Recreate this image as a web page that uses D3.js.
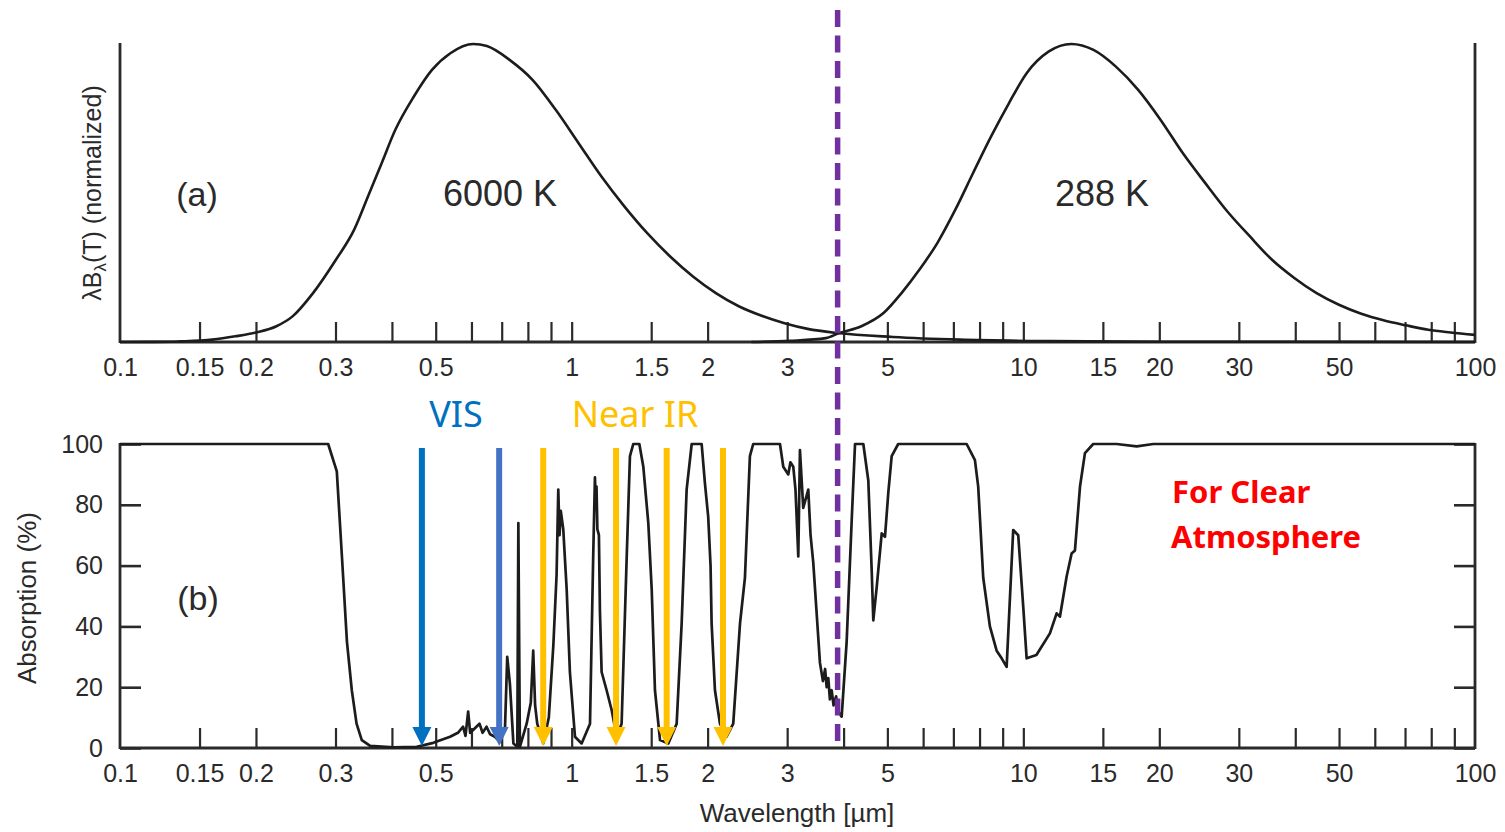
<!DOCTYPE html>
<html>
<head>
<meta charset="utf-8">
<script src="https://cdn.jsdelivr.net/npm/d3@7"></script>
<style>
  html, body { margin: 0; padding: 0; background: #fff; }
  svg { display: block; }
</style>
</head>
<body>
<svg id="chart" width="1505" height="832"></svg>
<script>
// ---------------- DATA ----------------
const wavelengthTicks = [0.15,0.2,0.3,0.4,0.5,0.6,0.7,0.8,0.9,1,1.5,2,3,4,5,6,7,8,9,10,15,20,30,40,50,60,70,80,90];
const wavelengthLabels = [0.1,0.15,0.2,0.3,0.5,1,1.5,2,3,5,10,15,20,30,50,100];
const absorptionTicks = [0,20,40,60,80,100];

// normalized lambda*B_lambda(T)
const sun6000K = [[0.10,0],[0.13,0.001],[0.136,0.002],[0.160,0.008],[0.180,0.019],[0.200,0.032],[0.222,0.053],
  [0.241,0.086],[0.2675,0.164],[0.3006,0.276],[0.330,0.377],[0.354,0.488],[0.3796,0.600],[0.407,0.712],
  [0.447,0.823],[0.4906,0.913],[0.5388,0.969],[0.6055,1.0],[0.649,0.993],[0.7298,0.946],[0.820,0.879],
  [0.922,0.779],[1.036,0.667],[1.164,0.555],[1.308,0.455],[1.470,0.365],[1.652,0.287],[1.856,0.220],
  [2.086,0.164],[2.344,0.120],[2.634,0.088],[2.96,0.063],[3.33,0.044],[3.88,0.030],[5.14,0.017],
  [7.23,0.008],[11.4,0.003],[20,0.001],[100,0]];
const earth288K = [[2.5,0],[3.045,0.004],[3.654,0.013],[3.91,0.030],[4.38,0.053],[4.91,0.098],[5.38,0.165],
  [5.89,0.243],[6.45,0.332],[7.07,0.444],[7.74,0.567],[8.48,0.689],[9.29,0.801],[10.17,0.902],[11.39,0.975],
  [12.77,1.0],[14.30,0.980],[16.03,0.924],[17.96,0.846],[20.12,0.746],[22.54,0.634],[25.26,0.534],[28.30,0.438],
  [31.71,0.355],[35.53,0.276],[39.8,0.215],[44.6,0.164],[49.97,0.125],[56.0,0.095],[62.7,0.073],[70.3,0.056],
  [78.8,0.041],[88.3,0.032],[100,0.024]];

// atmospheric absorption (%)
const absorption = [[0.10,100],[0.289,100],[0.302,91],[0.310,63],[0.318,35],[0.326,19],[0.334,8],[0.343,2.6],
  [0.358,0.7],[0.403,0.2],[0.454,0.4],[0.494,1.7],[0.538,3.7],[0.560,5],[0.575,7],[0.582,4],[0.590,12],[0.596,5],
  [0.606,6],[0.625,8],[0.635,5],[0.648,7],[0.660,4.5],[0.676,3.7],[0.694,2],[0.712,7],[0.720,30],[0.730,21],
  [0.743,1.5],[0.758,0.4],[0.762,74],[0.768,0.4],[0.795,8],[0.812,15],[0.822,32],[0.830,14],[0.839,8],[0.865,1.5],
  [0.890,10],[0.911,34],[0.926,57],[0.934,85],[0.940,70],[0.946,78],[0.958,72],[0.975,52],[0.991,25],[1.017,3.7],
  [1.052,1.5],[1.098,8],[1.116,63],[1.126,89],[1.131,80],[1.135,86],[1.140,72],[1.149,70],[1.155,45],[1.165,25],
  [1.195,19],[1.226,12.5],[1.258,3.7],[1.290,8],[1.324,63],[1.346,96],[1.369,100],[1.412,100],[1.441,92.5],
  [1.478,74],[1.504,52],[1.529,19],[1.569,2.6],[1.637,1.5],[1.708,8],[1.752,41],[1.797,85],[1.844,100],
  [1.940,100],[1.973,87],[2.006,76],[2.030,60],[2.041,41],[2.076,19],[2.130,8],[2.203,3.7],[2.279,8],[2.359,41],
  [2.419,56],[2.481,96],[2.523,100],[2.892,100],[2.941,92.5],[3.017,90],[3.05,94],[3.095,92.5],[3.13,85],
  [3.175,63],[3.202,98],[3.256,79],[3.341,85],[3.38,70],[3.427,61],[3.546,28],[3.60,22],[3.64,26],[3.669,20],
  [3.70,23],[3.73,16],[3.764,19],[3.80,14],[3.85,17],[3.893,12],[3.961,10.3],[4.063,35],[4.169,75],[4.240,100],
  [4.423,100],[4.537,88],[4.617,58],[4.654,42],[4.736,53],[4.858,70.6],[4.940,69.5],[5.024,84],[5.111,96],
  [5.284,100],[7.491,100],[7.813,94.7],[7.945,86],[8.151,56],[8.433,40],[8.727,32],[8.954,29.5],[9.184,26.7],
  [9.497,71.7],[9.743,70],[9.995,46.5],[10.17,29.5],[10.69,30.6],[11.45,37.7],[11.85,44.3],[12.05,43.2],
  [12.47,56.4],[12.79,64],[13.01,65],[13.35,86],[13.69,97],[14.28,100],[16.09,100],[17.82,99.2],[19.40,100],
  [100,100]];

// satellite channel arrows (µm)
const visChannels = [0.466, 0.691];
const visColors = ["#0070C0", "#4472C4"];
const nirChannels = [0.865, 1.254, 1.623, 2.163];
const cutoffWavelength = 3.88;

// ---------------- CHART ----------------
const svg = d3.select("#chart");
const ink = "#2a2a2a";
const tickFont = "Liberation Sans, Arial, sans-serif";

const x = d3.scaleLog().domain([0.1, 100]).range([120, 1475]);
const yTop = d3.scaleLinear().domain([0, 1]).range([342, 44]);
const yBot = d3.scaleLinear().domain([0, 100]).range([748, 444]);

function fmt(d) { return String(d); }

function xAxes(y0) {
  const gT = svg.append("g").attr("transform", `translate(0,${y0})`)
    .call(d3.axisBottom(x).tickValues(wavelengthTicks).tickSizeInner(-20).tickSizeOuter(0).tickFormat(""));
  gT.select(".domain").remove();
  gT.selectAll(".tick line").attr("stroke", ink).attr("stroke-width", 2.2);
  const gL = svg.append("g").attr("transform", `translate(0,${y0})`)
    .call(d3.axisBottom(x).tickValues(wavelengthLabels).tickSize(0).tickPadding(16).tickFormat(fmt));
  gL.select(".domain").remove();
  gL.selectAll(".tick text").attr("font-family", tickFont).attr("font-size", 25).attr("fill", ink);
}

// Panel (a) frame
svg.append("line").attr("x1", 120).attr("x2", 1475).attr("y1", 342).attr("y2", 342).attr("stroke", ink).attr("stroke-width", 2.8);
svg.append("line").attr("x1", 120).attr("x2", 120).attr("y1", 43).attr("y2", 343).attr("stroke", ink).attr("stroke-width", 2.8);
svg.append("line").attr("x1", 1475).attr("x2", 1475).attr("y1", 43).attr("y2", 343).attr("stroke", ink).attr("stroke-width", 2.8);
xAxes(342);

// Panel (b) frame
svg.append("line").attr("x1", 120).attr("x2", 1475).attr("y1", 748).attr("y2", 748).attr("stroke", ink).attr("stroke-width", 2.8);
svg.append("line").attr("x1", 120).attr("x2", 120).attr("y1", 443).attr("y2", 749).attr("stroke", ink).attr("stroke-width", 2.8);
svg.append("line").attr("x1", 1475).attr("x2", 1475).attr("y1", 443).attr("y2", 749).attr("stroke", ink).attr("stroke-width", 2.8);
xAxes(748);

const gY = svg.append("g").attr("transform", "translate(120,0)")
  .call(d3.axisLeft(yBot).tickValues(absorptionTicks).tickSizeInner(-21).tickSizeOuter(0).tickPadding(17).tickFormat(fmt));
gY.select(".domain").remove();
gY.selectAll(".tick line").attr("stroke", ink).attr("stroke-width", 2.6);
gY.selectAll(".tick text").attr("font-family", tickFont).attr("font-size", 25).attr("fill", ink);

const gY2 = svg.append("g").attr("transform", "translate(1475,0)")
  .call(d3.axisRight(yBot).tickValues(absorptionTicks).tickSizeInner(-21).tickSizeOuter(0).tickFormat(""));
gY2.select(".domain").remove();
gY2.selectAll(".tick line").attr("stroke", ink).attr("stroke-width", 2.6);

// Curves
const lineTop = d3.line().x(d => x(d[0])).y(d => yTop(d[1])).curve(d3.curveMonotoneX);
svg.append("path").datum(sun6000K).attr("d", lineTop).attr("fill", "none").attr("stroke", "#1c1c1c").attr("stroke-width", 2.6);
svg.append("path").datum(earth288K).attr("d", lineTop).attr("fill", "none").attr("stroke", "#1c1c1c").attr("stroke-width", 2.6);

const lineBot = d3.line().x(d => x(d[0])).y(d => yBot(d[1]));
svg.append("path").datum(absorption).attr("d", lineBot).attr("fill", "none").attr("stroke", "#1c1c1c")
  .attr("stroke-width", 2.7).attr("stroke-linejoin", "round");

// Text annotations
const labelFont = "Liberation Sans, Arial, sans-serif";
svg.append("text").attr("x", 197).attr("y", 206).attr("text-anchor", "middle").attr("font-family", labelFont).attr("font-size", 34).attr("fill", ink).text("(a)");
svg.append("text").attr("x", 500).attr("y", 206).attr("text-anchor", "middle").attr("font-family", labelFont).attr("font-size", 36).attr("fill", ink).text("6000 K");
svg.append("text").attr("x", 1102).attr("y", 206).attr("text-anchor", "middle").attr("font-family", labelFont).attr("font-size", 36).attr("fill", ink).text("288 K");
svg.append("text").attr("x", 198).attr("y", 610).attr("text-anchor", "middle").attr("font-family", labelFont).attr("font-size", 34).attr("fill", ink).text("(b)");

const yl = svg.append("text").attr("transform", "translate(101,193) rotate(-90)").attr("text-anchor", "middle")
  .attr("font-family", labelFont).attr("font-size", 25).attr("fill", ink);
yl.append("tspan").text("λB");
yl.append("tspan").attr("font-size", 17).attr("dy", 5).text("λ");
yl.append("tspan").attr("dy", -5).text("(T) (normalized)");

svg.append("text").attr("transform", "translate(36,598) rotate(-90)").attr("text-anchor", "middle")
  .attr("font-family", labelFont).attr("font-size", 26).attr("fill", ink).text("Absorption (%)");
svg.append("text").attr("x", 797).attr("y", 822).attr("text-anchor", "middle")
  .attr("font-family", labelFont).attr("font-size", 26).attr("fill", ink).text("Wavelength [µm]");

// Arrows
function arrow(wl, color) {
  const cx = x(wl);
  svg.append("line").attr("x1", cx).attr("x2", cx).attr("y1", 448).attr("y2", 730)
    .attr("stroke", color).attr("stroke-width", 6);
  svg.append("path").attr("d", `M${cx - 9.5},727 L${cx + 9.5},727 L${cx},746 Z`).attr("fill", color);
}
visChannels.forEach((w, i) => arrow(w, visColors[i]));
nirChannels.forEach(w => arrow(w, "#FFC000"));

svg.append("text").attr("x", 456).attr("y", 427).attr("text-anchor", "middle").attr("font-family", "Noto Sans, Open Sans, sans-serif")
  .attr("font-size", 36).attr("fill", "#0070C0").text("VIS");
svg.append("text").attr("x", 635).attr("y", 427).attr("text-anchor", "middle").attr("font-family", "Noto Sans, Open Sans, sans-serif")
  .attr("font-size", 36).attr("fill", "#FFC000").text("Near IR");

svg.append("text").attr("x", 1172).attr("y", 503).attr("font-family", "Noto Sans, Open Sans, sans-serif").attr("font-weight", "bold")
  .attr("font-size", 31).attr("fill", "#FF0000").text("For Clear");
svg.append("text").attr("x", 1171).attr("y", 548).attr("font-family", "Noto Sans, Open Sans, sans-serif").attr("font-weight", "bold")
  .attr("font-size", 31).attr("fill", "#FF0000").text("Atmosphere");

// Cutoff dashed line
svg.append("line").attr("x1", x(cutoffWavelength)).attr("x2", x(cutoffWavelength)).attr("y1", 10).attr("y2", 748)
  .attr("stroke", "#7030A0").attr("stroke-width", 5.5).attr("stroke-dasharray", "17,8.5");
</script>
</body>
</html>
